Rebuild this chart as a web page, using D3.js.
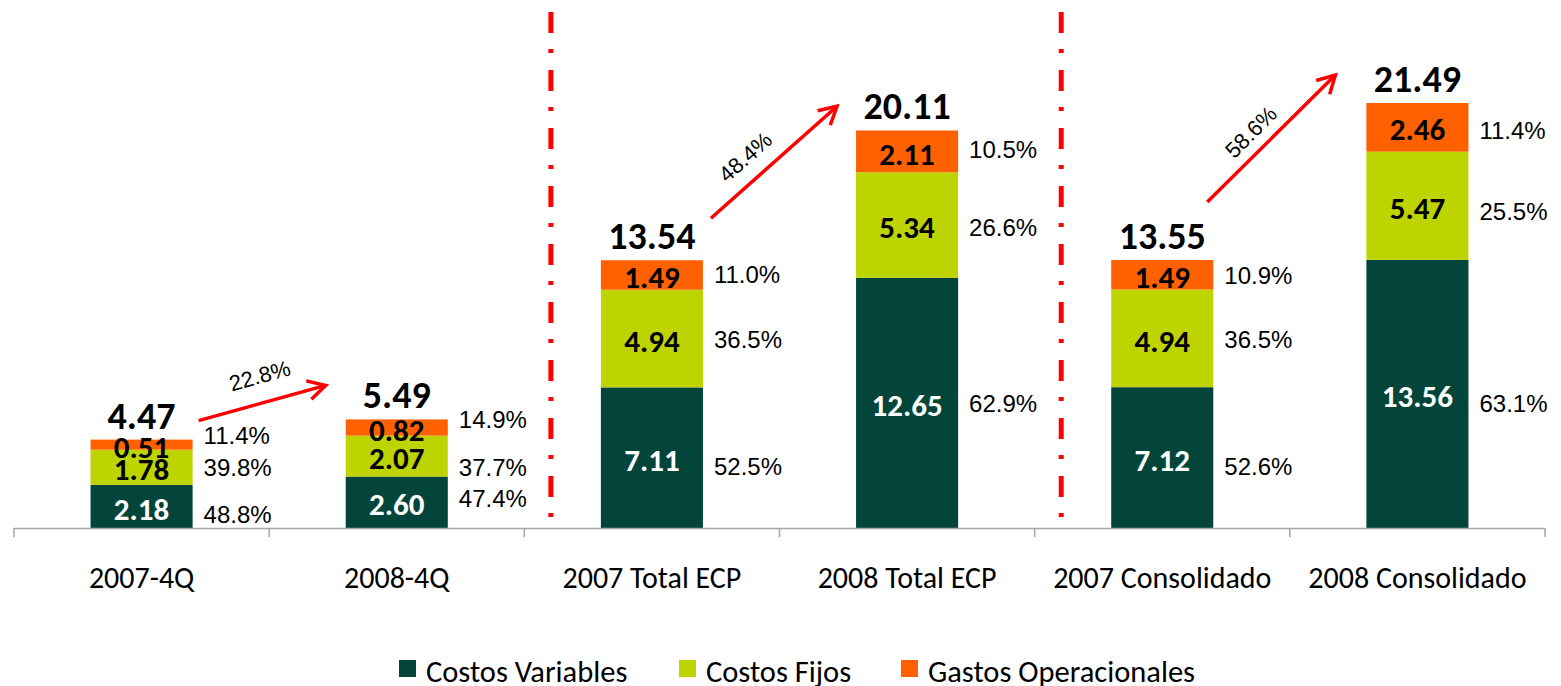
<!DOCTYPE html>
<html>
<head>
<meta charset="utf-8">
<script src="https://cdn.jsdelivr.net/npm/d3@7"></script>
<style>
  html, body { margin: 0; padding: 0; background: #fff; }
  svg { display: block; }
</style>
</head>
<body>
<div id="chart"></div>
<script>
// data
const categories = ['2007-4Q', '2008-4Q', '2007 Total ECP', '2008 Total ECP', '2007 Consolidado', '2008 Consolidado'];
const costosVariables = [2.18, 2.60, 7.11, 12.65, 7.12, 13.56];
const costosFijos = [1.78, 2.07, 4.94, 5.34, 4.94, 5.47];
const gastosOperacionales = [0.51, 0.82, 1.49, 2.11, 1.49, 2.46];
const totals = [4.47, 5.49, 13.54, 20.11, 13.55, 21.49];
const pctVariables = ['48.8%', '47.4%', '52.5%', '62.9%', '52.6%', '63.1%'];
const pctFijos = ['39.8%', '37.7%', '36.5%', '26.6%', '36.5%', '25.5%'];
const pctGastos = ['11.4%', '14.9%', '11.0%', '10.5%', '10.9%', '11.4%'];
const growth = [
  { from: 0, to: 1, label: '22.8%' },
  { from: 2, to: 3, label: '48.4%' },
  { from: 4, to: 5, label: '58.6%' }
];
const seriesNames = ['Costos Variables', 'Costos Fijos', 'Gastos Operacionales'];

// layout tweaks (manual label placement like the original)
const pctNudge = [
  [8, 0, -9], [-4, 11, -8], [9, 1, 0], [1, 3, -2], [9, 1, 1], [10, 6, 3]
];
// arrow ends relative to bar edges / tops: [dx0, dy0, dx1, dy1]
const arrowOffsets = [[6, -19, -20, -34], [8, -42, -19, -24], [-6, -58, -31, -28]];
// arrow label offsets: [along the arrow, above the arrow]
const arrowLabelOffsets = [[5, 27], [-18, 23], [-10, 19]];

const colors = ['#03453a', '#bdd400', '#ff6000'];
const W = 1561, H = 686;
const calibri = "Carlito, Lato, 'Open Sans', sans-serif";
const arial = "'Liberation Sans', Arial, sans-serif";

const svg = d3.select('#chart').append('svg')
  .attr('width', W)
  .attr('height', H);

const x = d3.scaleBand()
  .domain(categories)
  .range([14, 1545])
  .paddingInner(0.6)
  .paddingOuter(0.3);

const y = d3.scaleLinear()
  .domain([0, 21.49])
  .range([528, 103]);

const rows = categories.map((c, i) => ({
  cat: c,
  v: costosVariables[i],
  f: costosFijos[i],
  g: gastosOperacionales[i]
}));
const stack = d3.stack().keys(['v', 'f', 'g'])(rows);
const pcts = [pctVariables, pctFijos, pctGastos];

// red dash-dot separators before the ECP and Consolidado groups
[2, 4].forEach(i => {
  const sx = x(categories[i]) - 50;
  svg.append('line')
    .attr('x1', sx).attr('x2', sx)
    .attr('y1', 12).attr('y2', 528)
    .attr('stroke', '#ff0000')
    .attr('stroke-width', 5)
    .attr('stroke-dasharray', '21 16 4 17');
});

// bars
stack.forEach((layer, k) => {
  svg.append('g')
    .selectAll('rect')
    .data(layer)
    .join('rect')
    .attr('x', d => x(d.data.cat))
    .attr('y', d => y(d[1]))
    .attr('width', x.bandwidth())
    .attr('height', d => y(d[0]) - y(d[1]))
    .attr('fill', colors[k]);
});

// axis
const axis = svg.append('g');
axis.append('line')
  .attr('x1', 14).attr('x2', 1545)
  .attr('y1', 528.5).attr('y2', 528.5)
  .attr('stroke', '#a6a6a6').attr('stroke-width', 1.5);
d3.range(categories.length + 1).forEach(i => {
  const tx = 14 + x.step() * i;
  axis.append('line')
    .attr('x1', tx).attr('x2', tx)
    .attr('y1', 528).attr('y2', 537)
    .attr('stroke', '#a6a6a6').attr('stroke-width', 1.5);
});
axis.selectAll('text.cat')
  .data(categories)
  .join('text')
  .attr('class', 'cat')
  .attr('x', d => x(d) + x.bandwidth() / 2)
  .attr('y', 588)
  .attr('text-anchor', 'middle')
  .attr('font-family', calibri)
  .attr('font-size', 30)
  .attr('fill', '#000')
  .text(d => d);

// values inside segments
stack.forEach((layer, k) => {
  svg.append('g')
    .selectAll('text')
    .data(layer)
    .join('text')
    .attr('x', d => x(d.data.cat) + x.bandwidth() / 2)
    .attr('y', d => (y(d[0]) + y(d[1])) / 2 + 2)
    .attr('dy', '0.36em')
    .attr('text-anchor', 'middle')
    .attr('font-family', calibri)
    .attr('font-weight', 'bold')
    .attr('font-size', 31)
    .attr('fill', k === 0 ? '#fff' : '#000')
    .text(d => (d[1] - d[0]).toFixed(2));
});

// percentage labels to the right
stack.forEach((layer, k) => {
  svg.append('g')
    .selectAll('text')
    .data(layer)
    .join('text')
    .attr('x', d => x(d.data.cat) + x.bandwidth() + 11)
    .attr('y', (d, i) => (y(d[0]) + y(d[1])) / 2 + pctNudge[i][k])
    .attr('dy', '0.35em')
    .attr('font-family', arial)
    .attr('font-size', 24)
    .attr('fill', '#000')
    .text((d, i) => pcts[k][i]);
});

// totals
svg.append('g')
  .selectAll('text')
  .data(totals)
  .join('text')
  .attr('x', (d, i) => x(categories[i]) + x.bandwidth() / 2)
  .attr('y', d => y(d) - 11)
  .attr('text-anchor', 'middle')
  .attr('font-family', calibri)
  .attr('font-weight', 'bold')
  .attr('font-size', 38)
  .attr('fill', '#000')
  .text(d => d.toFixed(2));

// growth arrows
growth.forEach((gr, j) => {
  const o = arrowOffsets[j];
  const x0 = x(categories[gr.from]) + x.bandwidth() + o[0];
  const y0 = y(totals[gr.from]) + o[1];
  const x1 = x(categories[gr.to]) + o[2];
  const y1 = y(totals[gr.to]) + o[3];
  const ang = Math.atan2(y1 - y0, x1 - x0);
  const head = 20, spread = 0.5;
  const g = svg.append('g')
    .attr('stroke', '#ff0000')
    .attr('stroke-width', 3.5)
    .attr('fill', 'none');
  g.append('line')
    .attr('x1', x0).attr('y1', y0)
    .attr('x2', x1).attr('y2', y1);
  g.append('path')
    .attr('d', d3.line()([
      [x1 - head * Math.cos(ang - spread), y1 - head * Math.sin(ang - spread)],
      [x1, y1],
      [x1 - head * Math.cos(ang + spread), y1 - head * Math.sin(ang + spread)]
    ]));
  const lo = arrowLabelOffsets[j];
  const mx = (x0 + x1) / 2 + lo[0] * Math.cos(ang) + lo[1] * Math.sin(ang);
  const my = (y0 + y1) / 2 + lo[0] * Math.sin(ang) - lo[1] * Math.cos(ang);
  svg.append('text')
    .attr('transform', `translate(${mx},${my}) rotate(${ang * 180 / Math.PI})`)
    .attr('text-anchor', 'middle')
    .attr('dy', '0.35em')
    .attr('font-family', arial)
    .attr('font-size', 22)
    .attr('fill', '#000')
    .text(gr.label);
});

// legend
const legendX = [399, 679, 901];
const legend = svg.append('g');
seriesNames.forEach((name, i) => {
  legend.append('rect')
    .attr('x', legendX[i]).attr('y', 660)
    .attr('width', 17).attr('height', 17)
    .attr('fill', colors[i]);
  legend.append('text')
    .attr('x', legendX[i] + 27).attr('y', 682)
    .attr('font-family', calibri)
    .attr('font-size', 30.5)
    .attr('fill', '#000')
    .text(name);
});
</script>
</body>
</html>
